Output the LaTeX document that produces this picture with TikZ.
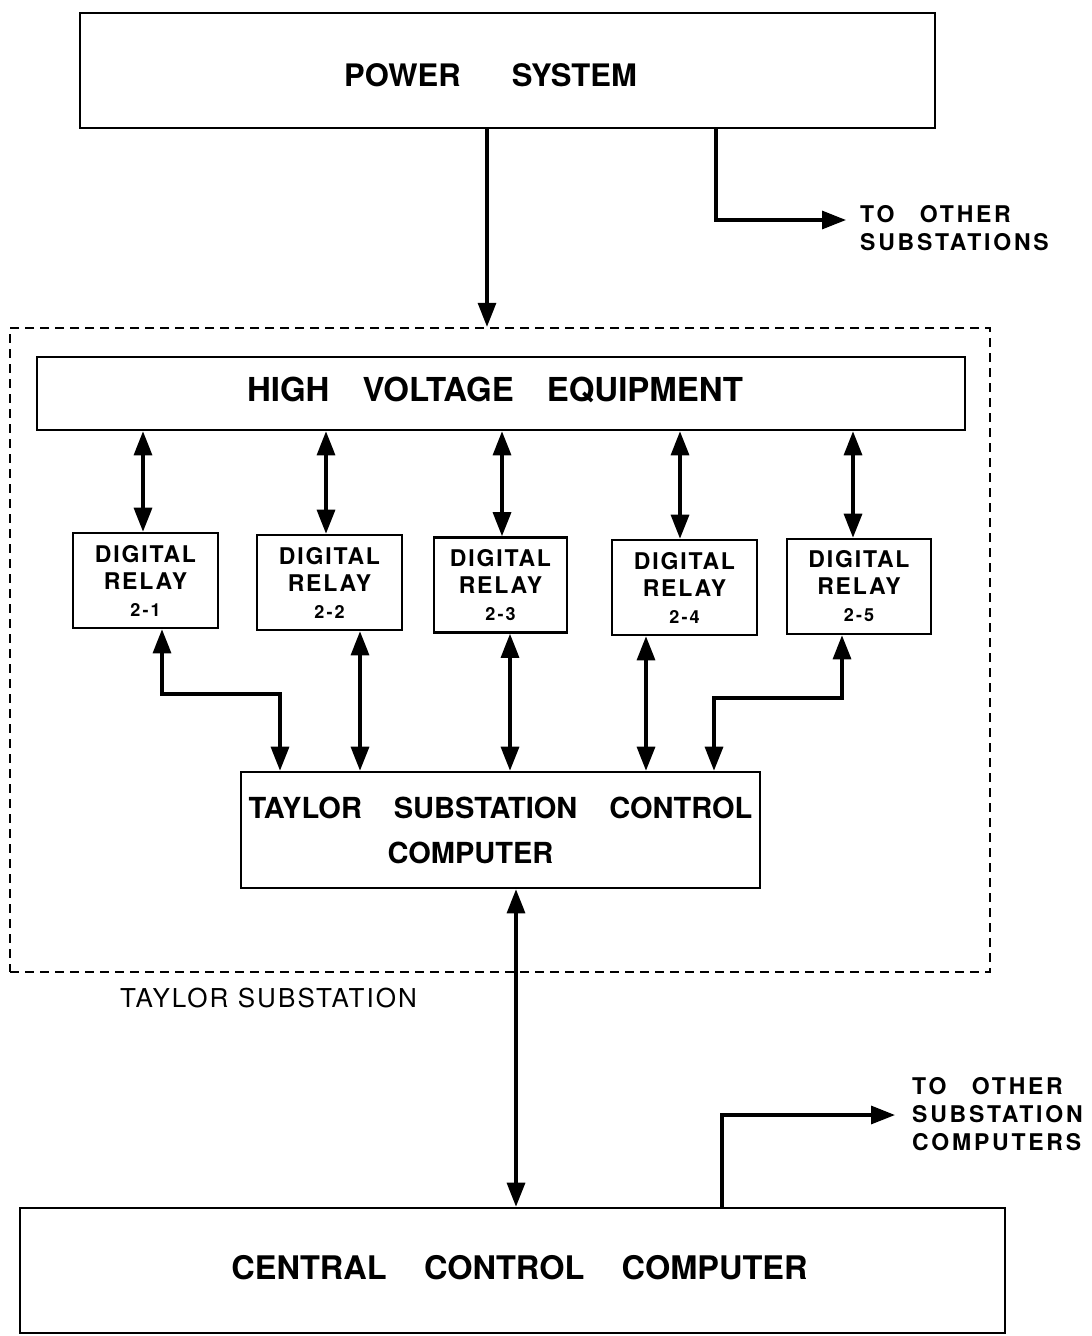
\documentclass[tikz,border=0pt]{standalone}
\usepackage{fontspec}
\setmainfont{TeX Gyre Heros}
\newfontfamily\spaced{TeX Gyre Heros}[LetterSpace=8]
\newfontfamily\wide{TeX Gyre Heros}[LetterSpace=12]
\newfontfamily\lab{TeX Gyre Heros}[LetterSpace=8]
\usetikzlibrary{arrows.meta}
\begin{document}
\begin{tikzpicture}[x=1pt,y=-1pt,
  box/.style={draw,line width=2.6pt,rectangle,inner sep=0pt},
  title/.style={box,font=\bfseries\fontsize{32}{36}\selectfont},
  relay/.style={box,minimum height=95pt,align=center,font=\spaced\bfseries\fontsize{23}{27}\selectfont},
  lbl/.style={font=\wide\bfseries\fontsize{23}{28}\selectfont,align=left,anchor=north west,inner sep=0pt},
  conn/.style={line width=3.2pt},
  tip/.style={-{Triangle[length=24pt,width=18pt]}},
  dtip/.style={{Triangle[length=24pt,width=18pt]}-{Triangle[length=24pt,width=18pt]}}
]
\useasboundingbox (0,0) rectangle (1092,1336);
\newcommand{\nm}[1]{{\fontsize{18}{20}\selectfont 2\hspace{0.12em}-\hspace{0.12em}#1}}
% main boxes
\node[title,minimum width=855pt,minimum height=115pt,font=\bfseries\fontsize{31}{36}\selectfont] (ps) at (507.5,70.5) {\raisebox{-5pt}[\height][\depth]{POWER\hspace{1.65em}SYSTEM}\hspace*{34pt}};
\node[draw,line width=2.4pt,dash pattern=on 9pt off 6pt,minimum width=980pt,minimum height=644pt,inner sep=0pt] (sub) at (500,650) {};
\node[title,minimum width=928pt,minimum height=73pt,font=\bfseries\fontsize{33}{36}\selectfont] (hv) at (501,393.5) {\raisebox{4pt}[\height][\depth]{HIGH\hspace{1.0em}VOLTAGE\hspace{1.0em}EQUIPMENT}\hspace*{12pt}};
\node[relay,minimum width=145pt] (r1) at (145.5,580.5) {DIGITAL\\RELAY\\\nm{1}};
\node[relay,minimum width=145pt] (r2) at (329.5,582.5) {DIGITAL\\RELAY\\\nm{2}};
\node[relay,minimum width=133pt] (r3) at (500.5,585) {DIGITAL\\RELAY\\\nm{3}};
\node[relay,minimum width=145pt] (r4) at (684.5,587.5) {DIGITAL\\RELAY\\\nm{4}};
\node[relay,minimum width=144pt] (r5) at (859,586.5) {DIGITAL\\RELAY\\\nm{5}};
\node[box,minimum width=519pt,minimum height=116pt,align=center,font=\bfseries\fontsize{29}{45}\selectfont] (tscc) at (500.5,830) {TAYLOR\hspace{1.1em}SUBSTATION\hspace{1.1em}CONTROL\\COMPUTER\hspace*{60pt}};
\node[title,minimum width=985pt,minimum height=125pt,font=\bfseries\fontsize{32.5}{36}\selectfont] (ccc) at (512.5,1270.5) {\hspace*{14pt}\raisebox{3pt}[\height][\depth]{CENTRAL\hspace{1.15em}CONTROL\hspace{1.15em}COMPUTER}};
% labels
\node[anchor=west,inner sep=0pt,font=\lab\fontsize{26}{30}\selectfont] (tsl) at (120,998) {TAYLOR SUBSTATION};
\node[lbl] (os1) at (860,205) {TO\hspace{1.1em}OTHER\\SUBSTATIONS};
\node[lbl] (os2) at (912,1077) {TO\hspace{1.1em}OTHER\\SUBSTATION\\COMPUTERS};
% power system connections
\coordinate (p1) at ([xshift=-20.5pt]ps.south);
\draw[conn,tip] (p1) -- (p1 |- sub.north);
\coordinate (b1) at (716,220);
\coordinate (t1) at (846,220);
\draw[conn,tip] (b1 |- ps.south) -- (b1) -- (t1);
% HV to relays
\foreach \r/\s in {r1/-2.5,r2/-3.5,r3/1.5,r4/-4.5,r5/-6}{
  \coordinate (q\r) at ([xshift=\s pt]\r.north);
  \draw[conn,dtip] (q\r |- hv.south) -- (q\r);
}
% relays to TSCC
\coordinate (s1) at ([xshift=16.5pt]r1.south);
\coordinate (k1) at (280,694);
\draw[conn,dtip] (s1) |- (k1) -- (k1 |- tscc.north);
\foreach \r/\s in {r2/30.5,r3/9.5,r4/-38.5}{
  \coordinate (s\r) at ([xshift=\s pt]\r.south);
  \draw[conn,dtip] (s\r) -- (s\r |- tscc.north);
}
\coordinate (s5) at ([xshift=-17pt]r5.south);
\coordinate (k5) at (714,698);
\draw[conn,dtip] (s5) |- (k5) -- (k5 |- tscc.north);
% TSCC to CCC
\coordinate (c1) at ([xshift=15.5pt]tscc.south);
\draw[conn,dtip] (c1) -- (c1 |- ccc.north);
\coordinate (b2) at (722,1115);
\coordinate (t2) at (895,1115);
\draw[conn,tip] (b2 |- ccc.north) -- (b2) -- (t2);
\end{tikzpicture}
\end{document}
